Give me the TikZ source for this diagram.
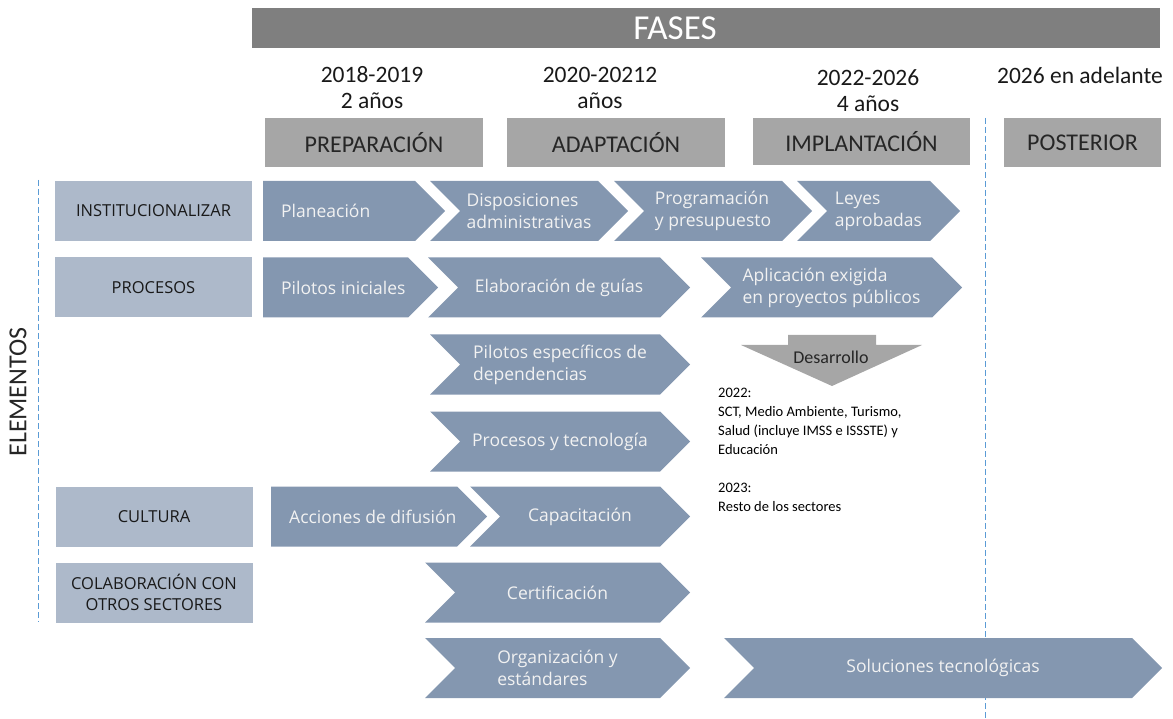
\documentclass[tikz,border=0pt]{standalone}
\usepackage{fontspec}
\setmainfont{Carlito}
\newfontfamily\chevfont{Open Sans}
\usetikzlibrary{positioning}
\definecolor{chevblue}{HTML}{8497B0}
\definecolor{labelblue}{HTML}{ADB9CA}
\definecolor{phasegray}{HTML}{A6A6A6}
\definecolor{fasesgray}{HTML}{7F7F7F}
\definecolor{dashblue}{HTML}{5B9BD5}
\definecolor{txtdark}{HTML}{262626}

% chevron with notch: name, left x, tip x, mid y, text
\newcommand{\chev}[5]{%
  \fill[chevblue] (#2,#4-30) -- (#3-30,#4-30) -- (#3,#4) -- (#3-30,#4+30) -- (#2,#4+30) -- (#2+30,#4) -- cycle;
  \node[chevtxt] (#1) at ({(#2+#3)/2},#4) {#5};}
% first one of a row, flat left side
\newcommand{\chevflat}[5]{%
  \fill[chevblue] (#2,#4-30) -- (#3-30,#4-30) -- (#3,#4) -- (#3-30,#4+30) -- (#2,#4+30) -- cycle;
  \node[chevtxt,anchor=west] (#1) at (#2+18,#4) {#5};}

\begin{document}
\begin{tikzpicture}[x=1pt,y=-1pt,
  chevtxt/.style={text=white!95!black,align=left,inner sep=0pt,font=\chevfont\fontsize{17.5}{22}\selectfont},
  phase/.style={fill=phasegray,minimum width=218pt,minimum height=49pt,inner sep=0pt,text=txtdark,font=\fontsize{24}{26}\selectfont},
  elem/.style={fill=labelblue,minimum width=197pt,minimum height=60pt,inner sep=0pt,align=center,text=black!90,font=\chevfont\fontsize{16.5}{21}\selectfont},
  years/.style={align=center,text=black!90,font=\fontsize{23.5}{26}\selectfont},
  sep/.style={dashblue,line width=1pt,dash pattern=on 6pt off 3pt}]
\useasboundingbox (0,0) rectangle (1173,719);

% header
\fill[fasesgray] (252,8) rectangle (1160,48);
\node[text=white,font=\fontsize{35}{35}\selectfont] (fases) at (675,28) {FASES};
\node[years] (yr1) at (372,88) {2018-2019\\2 años};
\node[years] (yr2) at (600,88) {2020-20212\\años};
\node[years] (yr3) at (868,91) {2022-2026\\4 años};
\node[years] (yr4) at (1080,75) {2026 en adelante};
\node[phase] (prep) at (374,142.5) {PREPARACIÓN};
\node[phase] (adap) at (616,142.5) {ADAPTACIÓN};
\node[phase,minimum height=47pt,minimum width=217pt] (impl) at (861.5,141.5) {IMPLANTACIÓN};
\node[phase,minimum width=157pt] (post) at (1082.5,142.5) {POSTERIOR};

% separators
\draw[sep] (38,180) -- (38,622);
\draw[sep] (985,118) -- (985,719);
\node[rotate=90,text=txtdark,font=\fontsize{26}{26}\selectfont] (elems) at (18,392) {ELEMENTOS};

% elements
\node[elem] (inst) at (153.5,211) {INSTITUCIONALIZAR};
\node[elem] (proc) at (153.5,287.5) {PROCESOS};
\node[elem] (cult) at (154,516.5) {CULTURA};
\node[elem] (colab) at (154,592.5) {COLABORACIÓN CON\\OTROS SECTORES};

% chevrons
\chevflat{plan}{263}{445}{211}{Planeación}
\chev{disp}{430}{628}{211}{Disposiciones\\administrativas}
\chev{prog}{614}{812}{211}{Programación\\y presupuesto}
\chev{leyes}{797}{960}{211}{Leyes\\aprobadas}
\chevflat{pilini}{263}{438}{287.5}{Pilotos iniciales}
\chev{guias}{428}{690}{287.5}{Elaboración de guías}
\chev{aplic}{701}{962}{287.5}{Aplicación exigida\\en proyectos públicos}
\chev{pilesp}{430}{690}{364.5}{Pilotos específicos de\\dependencias}
\chev{proctec}{430}{690}{441.5}{Procesos y tecnología}
\chevflat{difus}{271}{487}{516.5}{Acciones de difusión}
\chev{capac}{470}{690}{516.5}{Capacitación}
\chev{certif}{425}{690}{592.5}{Certificación}
\chev{orgest}{425}{690}{668}{Organización y\\estándares}
\chev{soltec}{724}{1162}{668}{Soluciones tecnológicas}

% desarrollo
\fill[phasegray] (788,335) -- (876,335) -- (876,345) -- (922,345) -- (832,386) -- (741,345) -- (788,345) -- cycle;
\node[text=txtdark,font=\fontsize{18}{18}\selectfont] (desa) at (831,357) {Desarrollo};
\node[anchor=north west,align=left,inner sep=0pt,text=black,font=\fontsize{14.5}{19}\selectfont] (sect) at (718,388)
  {2022:\\SCT, Medio Ambiente, Turismo,\\Salud (incluye IMSS e ISSSTE) y\\Educación\\[19pt]2023:\\Resto de los sectores};
\end{tikzpicture}
\end{document}
